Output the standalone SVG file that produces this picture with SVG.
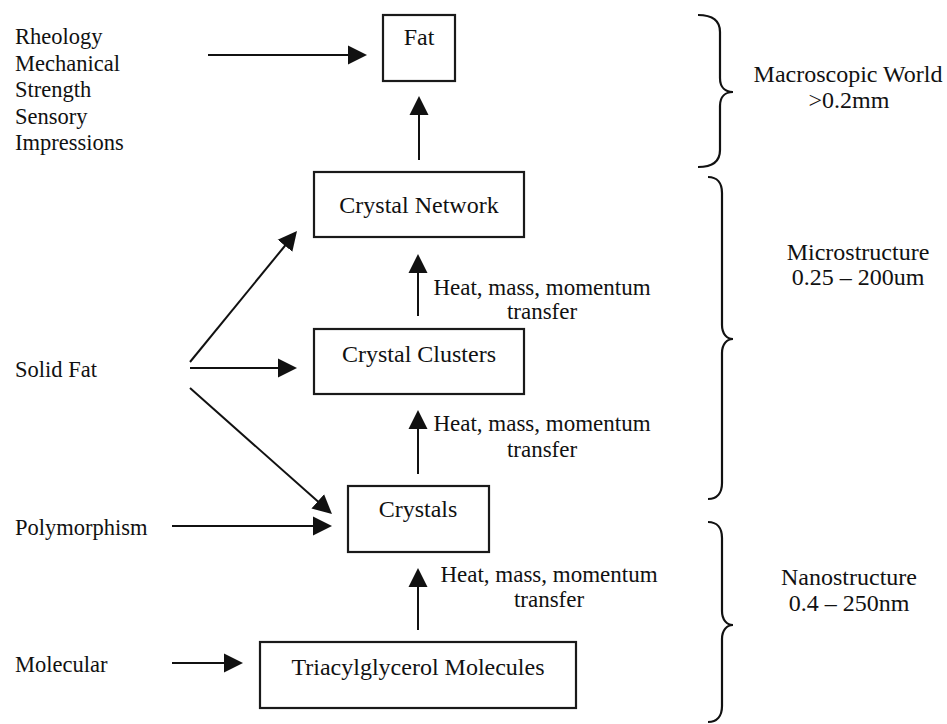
<svg xmlns="http://www.w3.org/2000/svg" width="947" height="724" viewBox="0 0 947 724">
<style>
text{font-family:"Liberation Serif","Times New Roman",serif;fill:#111}
.node{font-size:24px;text-anchor:middle}
.side{font-size:22.5px}
.lbl{font-size:23px;text-anchor:middle}
.rt{font-size:24px;text-anchor:middle}
.box{fill:#fff;stroke:#1a1a1a;stroke-width:2.2}
.ln{stroke:#111;stroke-width:2;fill:none}
.br{stroke:#111;stroke-width:2.2;fill:none}
</style>
<defs>
<marker id="ah" viewBox="0 -10 20 20" refX="1" refY="0" markerWidth="20" markerHeight="20" markerUnits="userSpaceOnUse" orient="auto">
<path d="M0,-9.5 L19,0 L0,9.5 z" fill="#111"/>
</marker>
</defs>
<rect width="947" height="724" style="fill:#fff;stroke:none"/>

<g id="n-fat"><rect class="box" x="383" y="15" width="72" height="66"/><text class="node" x="419" y="45">Fat</text></g>
<g id="n-network"><rect class="box" x="314" y="172" width="210" height="65"/><text class="node" x="419" y="213">Crystal Network</text></g>
<g id="n-clusters"><rect class="box" x="314" y="329" width="210" height="65"/><text class="node" x="419" y="362">Crystal Clusters</text></g>
<g id="n-crystals"><rect class="box" x="348" y="486" width="141" height="66"/><text class="node" x="418" y="517">Crystals</text></g>
<g id="n-tag"><rect class="box" x="260" y="642" width="316" height="66"/><text class="node" x="418" y="675">Triacylglycerol Molecules</text></g>

<g id="n-rheology"><text class="side" x="15" y="44">Rheology</text><text class="side" x="15" y="71">Mechanical</text><text class="side" x="15" y="97">Strength</text><text class="side" x="15" y="124">Sensory</text><text class="side" x="15" y="150">Impressions</text></g>
<g id="n-solidfat"><text class="side" x="15" y="377">Solid Fat</text></g>
<g id="n-poly"><text class="side" x="15" y="535">Polymorphism</text></g>
<g id="n-molecular"><text class="side" x="15" y="672">Molecular</text></g>

<g id="connectors">
<line class="ln" x1="208" y1="55" x2="349" y2="55" marker-end="url(#ah)"/>
<line class="ln" x1="419" y1="160" x2="419" y2="114" marker-end="url(#ah)"/>
<line class="ln" x1="418" y1="316" x2="418" y2="272" marker-end="url(#ah)"/>
<line class="ln" x1="418" y1="474" x2="418" y2="428" marker-end="url(#ah)"/>
<line class="ln" x1="418" y1="630" x2="418" y2="586" marker-end="url(#ah)"/>
<line class="ln" x1="190" y1="362" x2="285.6" y2="245" marker-end="url(#ah)"/>
<line class="ln" x1="190" y1="368" x2="279" y2="368" marker-end="url(#ah)"/>
<line class="ln" x1="190" y1="388" x2="318.5" y2="502" marker-end="url(#ah)"/>
<line class="ln" x1="172" y1="526" x2="314" y2="526" marker-end="url(#ah)"/>
<line class="ln" x1="172" y1="663" x2="225" y2="663" marker-end="url(#ah)"/>
</g>

<g id="edge-labels">
<text class="lbl" x="542" y="295">Heat, mass, momentum</text><text class="lbl" x="542" y="319">transfer</text>
<text class="lbl" x="542" y="431">Heat, mass, momentum</text><text class="lbl" x="542" y="457">transfer</text>
<text class="lbl" x="549" y="582">Heat, mass, momentum</text><text class="lbl" x="549" y="607">transfer</text>
</g>

<g id="braces">
<path class="br" d="M698,15 C712,15 720,20 720,32 L720,78 C720,88 726,92 733,92 C726,92 720,96 720,106 L720,150 C720,162 712,167 698,167"/>
<path class="br" d="M708,177 C717,177 722,183 722,193 L722,325 C722,334 727,339 733,339 C727,339 722,344 722,353 L722,483 C722,493 717,499 708,499"/>
<path class="br" d="M708,522 C717,522 722,528 722,538 L722,611 C722,620 727,625 733,625 C727,625 722,630 722,639 L722,706 C722,716 717,722 708,722"/>
</g>

<g id="n-macro"><text class="rt" x="848" y="82">Macroscopic World</text><text class="rt" x="849" y="108">&gt;0.2mm</text></g>
<g id="n-micro"><text class="rt" x="858" y="260">Microstructure</text><text class="rt" x="858" y="285">0.25 – 200um</text></g>
<g id="n-nano"><text class="rt" x="849" y="585">Nanostructure</text><text class="rt" x="849" y="611">0.4 – 250nm</text></g>
</svg>
